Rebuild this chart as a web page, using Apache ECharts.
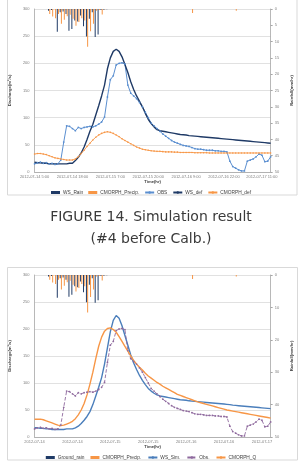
<!DOCTYPE html>
<html>
<head>
<meta charset="utf-8">
<script src="https://cdn.jsdelivr.net/npm/echarts@6/dist/echarts.min.js"></script>
<style>
  html, body { margin: 0; padding: 0; background: #fff; }
  #chart { width: 302px; height: 470px; }
</style>
</head>
<body>
<div id="chart"></div>
<script>
// hourly categories, 2012-07-14 5:00 .. 2012-07-17 14:00
var categories = [];
var start = new Date(2012, 6, 14, 5, 0);
for (var h = 0; h < 82; h++) {
  var d = new Date(start.getTime() + h * 3600000);
  categories.push('2012-07-' + d.getDate() + ' ' + d.getHours() + ':00');
}

var tickLabelsTop = ['2012-07-14 5:00', '2012-07-14 18:00', '2012-07-15 7:00', '2012-07-15 20:00',
  '2012-07-16 9:00', '2012-07-16 22:00', '2012-07-17 11:00'];
var tickLabelsBottom = ['2012-07-14', '2012-07-14', '2012-07-15', '2012-07-15',
  '2012-07-16', '2012-07-16', '2012-07-17'];

// rainfall (mm/hr)
var wsRain = [0, 0, 0, 0, 0, 0.5, 0.3, 0, 7.0, 1.0, 0.8, 1.5, 6.7, 6.1, 3.5, 3.8, 2.0, 5.3, 8.4, 3.0,
  1.0, 8.6, 7.8, 0.3, 0.2, 0.1, 0, 0, 0, 0, 0, 0, 0, 0, 0, 0, 0, 0, 0, 0,
  0, 0, 0, 0, 0, 0, 0, 0, 0, 0, 0, 0, 0, 0, 0, 0, 0, 0, 0, 0,
  0, 0, 0, 0, 0, 0, 0, 0, 0, 0, 0, 0, 0, 0, 0, 0, 0, 0, 0, 0, 0, 0];
var cmorphPrecip = [0, 0, 0, 0, 0, 1.5, 2.3, 2.8, 1.5, 4.5, 3.3, 2.2, 1.8, 3.0, 5.1, 4.0, 2.8, 3.5, 11.6, 6.8,
  4.5, 0.5, 0.3, 1.7, 0.1, 0, 0, 0, 0, 0, 0, 0, 0, 0, 0, 0, 0, 0, 0, 0,
  0, 0, 0, 0, 0, 0, 0, 0, 0, 0, 0, 0, 0, 0, 1.2, 0, 0, 0, 0, 0,
  0, 0, 0, 0, 0, 0, 0, 0, 0, 0.5, 0, 0, 0, 0, 0, 0, 0, 0, 0, 0, 0, 0];

// discharge (m3/s)
var obs = [15, 17, 18, 16, 17, 15, 16, 14, 15, 22, 55, 85, 84, 80, 76, 82, 80, 82, 83, 84,
  83, 85, 88, 92, 101, 138, 170, 177, 197, 200, 201, 199, 160, 145, 140, 135, 128, 120, 110, 100,
  90, 85, 80, 75, 70, 66, 62, 58, 55, 53, 51, 49, 48, 47, 45, 43, 42, 42, 41, 40,
  40, 40, 39, 39, 38, 38, 37, 20, 10, 7, 4, 2, 2, 20, 22, 24, 28, 33, 31, 19, 20, 28];
var wsDef = [18, 17, 17, 16, 16, 15, 15, 15, 15, 15, 15, 15, 16, 16, 21, 27, 35, 46, 60, 75,
  88, 105, 122, 140, 160, 190, 210, 222, 226, 222, 212, 198, 183, 166, 152, 140, 130, 120, 108, 97,
  89, 83, 78, 76, 75, 74, 73, 72, 71, 70, 69, 68.5, 68, 67, 66.5, 66, 65.5, 65, 64.5, 64,
  63.5, 63, 62.5, 62, 61.5, 61, 60.5, 60, 59.5, 59, 58.5, 58, 57.5, 57, 56.5, 56, 55.5, 55, 54.5, 54, 53.5, 53];
var cmorphDef = [33, 34, 34, 33, 32, 30, 28, 26, 25, 24, 23, 22, 22, 22, 24, 28, 34, 40, 47, 53,
  59, 64, 68, 71, 73, 74, 73, 71, 68, 65, 61, 58, 55, 52, 49, 46, 44, 42, 41, 40,
  39, 38.5, 38, 38, 37.5, 37, 37, 37, 36.5, 36.5, 36, 36, 36, 36, 36, 35.5, 35.5, 35.5, 35.5, 35.5,
  35, 35, 35, 35, 35, 35, 35, 35, 35, 35, 35, 35, 35, 35, 35, 35, 35, 35, 35, 35, 35, 35];
var wsSim = [17, 17, 16, 16, 15, 15, 14, 14, 14, 14, 14, 15, 15, 15, 17, 20, 25, 31, 38, 47,
  60, 76, 92, 110, 135, 165, 195, 216, 225, 220, 206, 188, 170, 152, 137, 125, 114, 105, 97, 90,
  85, 81, 78, 76, 75, 74, 73, 72, 71, 70, 69, 68.5, 68, 67, 66.5, 66, 65.5, 65, 64.5, 64,
  63.5, 63, 62.5, 62, 61.5, 61, 60.5, 60, 59, 58.5, 58, 57.5, 57, 56.5, 56, 55.5, 55, 54.5, 54, 53.5, 53, 52.5];
var cmorphQ = [33, 33, 33, 32, 30, 28, 26, 24, 22, 21, 22, 24, 26, 29, 34, 41, 50, 62, 78, 98,
  120, 145, 168, 185, 196, 201, 202, 199, 194, 186, 177, 168, 159, 150, 142, 135, 129, 124, 118, 113,
  109, 105, 101, 98, 94, 91, 88, 85, 82, 79, 77, 75, 73, 71, 69, 67, 65, 63.5, 62, 60.5,
  59, 57.5, 56, 54.5, 53, 51.5, 50, 49, 48, 47, 46, 45, 44, 43, 42, 41, 40, 39, 38, 37, 36, 35];

var navy = '#1f3a66';
var orange = '#f79646';
var lightBlue = '#5b8fd0';
var steelBlue = '#4a7ebb';
var purple = '#8f6a9e';
var tickFont = { fontSize: 4, color: '#7f7f7f', fontFamily: 'Liberation Sans' };

function xAxisFor(gridIndex, labels) {
  return {
    type: 'category', gridIndex: gridIndex, data: categories, boundaryGap: false,
    name: 'Time(hr)', nameLocation: 'middle', nameGap: 8,
    nameTextStyle: { fontSize: 4.2, color: '#404040', fontWeight: 'bold' },
    axisLine: { lineStyle: { color: '#a6a6a6', width: 0.8 } },
    axisTick: { show: false },
    axisLabel: Object.assign({
      interval: 12, margin: 3,
      formatter: function (v, i) { return labels[Math.round(i / 13)]; }
    }, tickFont),
    splitLine: { show: false }
  };
}
function leftAxis(gridIndex) {
  return {
    type: 'value', gridIndex: gridIndex, min: 0, max: 300, interval: 50,
    name: 'Discharge(m\u00b3/s)', nameLocation: 'middle', nameGap: 13,
    nameTextStyle: { fontSize: 4.2, color: '#404040', fontWeight: 'bold' },
    axisLine: { show: true, lineStyle: { color: '#a6a6a6', width: 0.8 } },
    axisTick: { show: false },
    axisLabel: Object.assign({ margin: 5 }, tickFont),
    splitLine: { lineStyle: { color: '#d9d9d9', width: 0.8 } }
  };
}
function rightAxis(gridIndex, interval) {
  return {
    type: 'value', gridIndex: gridIndex, min: 0, max: 50, interval: interval, inverse: true,
    position: 'right',
    name: 'Rainfall(mm/hr)', nameLocation: 'middle', nameGap: 14,
    nameTextStyle: { fontSize: 4.2, color: '#404040', fontWeight: 'bold' },
    axisLine: { show: true, lineStyle: { color: '#a6a6a6', width: 0.8 } },
    axisTick: { show: true, length: 2, lineStyle: { color: '#a6a6a6' } },
    axisLabel: Object.assign({ margin: 4 }, tickFont),
    splitLine: { show: false }
  };
}
function bar(name, data, color, xi, yi) {
  return { name: name, type: 'bar', xAxisIndex: xi, yAxisIndex: yi, data: data,
    barWidth: 1, barGap: '20%', itemStyle: { color: color }, silent: true };
}
function line(name, data, color, xi, yi, opts) {
  return Object.assign({ name: name, type: 'line', xAxisIndex: xi, yAxisIndex: yi, data: data,
    showSymbol: false, symbol: 'none', lineStyle: { color: color, width: 1.4 },
    itemStyle: { color: color } }, opts || {});
}
var legendText = { fontSize: 4.8, color: '#404040', padding: [0, 0, 0, -2] };

var chart = echarts.init(document.getElementById('chart'), null, { renderer: 'canvas' });
chart.setOption({
  animation: false,
  backgroundColor: '#fff',
  title: {
    text: 'FIGURE 14. Simulation result\n(#4 before Calb.)',
    left: 'center', top: 201,
    textStyle: { fontSize: 14, fontWeight: 'normal', color: '#3a3a3a', lineHeight: 22,
      fontFamily: 'DejaVu Sans' }
  },
  graphic: [
    { type: 'rect', shape: { x: 7.5, y: -2, width: 289.5, height: 197 },
      style: { fill: 'none', stroke: '#d9d9d9', lineWidth: 1 }, silent: true },
    { type: 'rect', shape: { x: 7.5, y: 267.5, width: 290, height: 192.5 },
      style: { fill: 'none', stroke: '#d9d9d9', lineWidth: 1 }, silent: true }
  ],
  legend: [
    { top: 185, left: 'center', itemWidth: 9, itemHeight: 3, itemGap: 5, textStyle: legendText,
      data: [{ name: 'WS_Rain', icon: 'rect' }, { name: 'CMORPH_Precip.', icon: 'rect' },
        'OBS', 'WS_def', 'CMORPH_def'] },
    { top: 450, left: 'center', itemWidth: 9, itemHeight: 3, itemGap: 6, textStyle: legendText,
      data: [{ name: 'Ground_rain', icon: 'rect' }, { name: 'CMORPH_Precip.', icon: 'rect' },
        'WS_Sim.', 'Obs.', 'CMORPH_Q'] }
  ],
  grid: [
    { left: 32, right: 26, top: 9, height: 163 },
    { left: 32, right: 26, top: 275, height: 162 }
  ],
  xAxis: [xAxisFor(0, tickLabelsTop), xAxisFor(1, tickLabelsBottom)],
  yAxis: [leftAxis(0), rightAxis(0, 5), leftAxis(1), rightAxis(1, 10)],
  series: [
    bar('WS_Rain', wsRain, navy, 0, 1),
    bar('CMORPH_Precip.', cmorphPrecip, orange, 0, 1),
    line('OBS', obs, lightBlue, 0, 0, { showSymbol: true, symbol: 'circle', symbolSize: 1.8,
      lineStyle: { color: lightBlue, width: 1 } }),
    line('WS_def', wsDef, navy, 0, 0),
    line('CMORPH_def', cmorphDef, orange, 0, 0, { showSymbol: true, symbol: 'circle', symbolSize: 1.6,
      lineStyle: { color: orange, width: 0.9 } }),
    bar('Ground_rain', wsRain, navy, 1, 3),
    bar('CMORPH_Precip.', cmorphPrecip, orange, 1, 3),
    line('WS_Sim.', wsSim, steelBlue, 1, 2),
    line('Obs.', obs, purple, 1, 2, { showSymbol: true, symbol: 'circle', symbolSize: 1.8,
      lineStyle: { color: purple, width: 0.9, type: 'dashed' } }),
    line('CMORPH_Q', cmorphQ, orange, 1, 2)
  ]
});
</script>
</body>
</html>
